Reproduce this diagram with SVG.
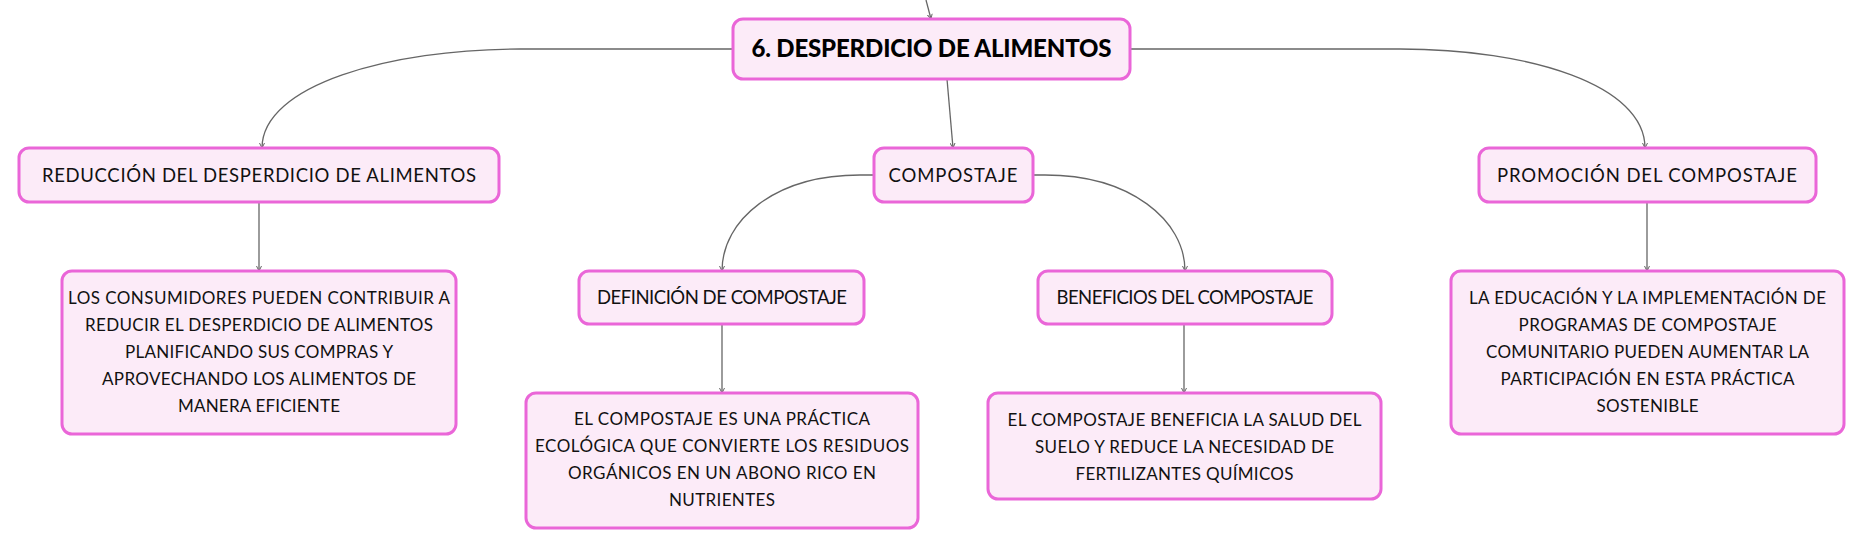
<svg xmlns="http://www.w3.org/2000/svg" width="1864" height="549" viewBox="0 0 1864 549">
<style>
.box{fill:#fcebf8;stroke:#ea66d8;stroke-width:3}
.t{font-family:Lato,"Noto Sans",sans-serif;font-size:18.5px;fill:#111;text-anchor:middle}
.b{font-family:Lato,"Noto Sans",sans-serif;font-size:17px;fill:#111;text-anchor:middle}
.m{font-family:Lato,"Noto Sans",sans-serif;font-size:24px;font-weight:900;fill:#000;text-anchor:middle}
.c{fill:none;stroke:#666;stroke-width:1.3;marker-end:url(#ar)}
</style>
<defs>
<marker id="ar" markerUnits="userSpaceOnUse" markerWidth="6" markerHeight="6" refX="5" refY="3" orient="auto">
<path d="M0,0.5 L5,3 L0,5.5" fill="none" stroke="#666" stroke-width="1"/>
</marker>
</defs>
<g id="connectors">
<path class="c" d="M926,0 L931,19"/>
<path class="c" d="M733,49 L520,49 C390,49 262,85 262,148"/>
<path class="c" d="M947,79 L953,148"/>
<path class="c" d="M1130,49 L1400,49 C1530,49 1645,85 1645,148"/>
<path class="c" d="M259,202 L259,271"/>
<path class="c" d="M874,175 L860,175 C775,175 722,220 722,271"/>
<path class="c" d="M1033,175 L1045,175 C1130,175 1185,220 1185,271"/>
<path class="c" d="M1647,202 L1647,271"/>
<path class="c" d="M722,324 L722,393"/>
<path class="c" d="M1184,324 L1184,393"/>
</g>
<g id="main">
<rect class="box" x="733" y="19" width="397" height="60" rx="10"/>
<text class="m" x="931.5" y="57" textLength="360">6. DESPERDICIO DE ALIMENTOS</text>
</g>
<g id="reduccion">
<rect class="box" x="19" y="148" width="480" height="54" rx="10"/>
<text class="t" x="259" y="182" textLength="434">REDUCCIÓN DEL DESPERDICIO DE ALIMENTOS</text>
</g>
<g id="compostaje">
<rect class="box" x="874" y="148" width="159" height="54" rx="10"/>
<text class="t" x="953" y="182" textLength="129">COMPOSTAJE</text>
</g>
<g id="promocion">
<rect class="box" x="1479" y="148" width="337" height="54" rx="10"/>
<text class="t" x="1647" y="182" textLength="300">PROMOCIÓN DEL COMPOSTAJE</text>
</g>
<g id="definicion">
<rect class="box" x="579" y="271" width="285" height="53" rx="10"/>
<text class="t" x="722" y="304" textLength="250">DEFINICIÓN DE COMPOSTAJE</text>
</g>
<g id="beneficios">
<rect class="box" x="1038" y="271" width="294" height="53" rx="10"/>
<text class="t" x="1185" y="304" textLength="257">BENEFICIOS DEL COMPOSTAJE</text>
</g>
<g id="consumidores">
<rect class="box" x="62" y="271" width="394" height="163" rx="10"/>
<text class="b" x="259" y="304" textLength="382">LOS CONSUMIDORES PUEDEN CONTRIBUIR A</text>
<text class="b" x="259" y="331" textLength="348">REDUCIR EL DESPERDICIO DE ALIMENTOS</text>
<text class="b" x="259" y="358" textLength="268">PLANIFICANDO SUS COMPRAS Y</text>
<text class="b" x="259" y="385" textLength="314">APROVECHANDO LOS ALIMENTOS DE</text>
<text class="b" x="259" y="412" textLength="162">MANERA EFICIENTE</text>
</g>
<g id="definicion-texto">
<rect class="box" x="526" y="393" width="392" height="135" rx="10"/>
<text class="b" x="722" y="425" textLength="296">EL COMPOSTAJE ES UNA PRÁCTICA</text>
<text class="b" x="722" y="452" textLength="374">ECOLÓGICA QUE CONVIERTE LOS RESIDUOS</text>
<text class="b" x="722" y="479" textLength="308">ORGÁNICOS EN UN ABONO RICO EN</text>
<text class="b" x="722" y="506" textLength="106">NUTRIENTES</text>
</g>
<g id="beneficios-texto">
<rect class="box" x="988" y="393" width="393" height="106" rx="10"/>
<text class="b" x="1184.5" y="426" textLength="354">EL COMPOSTAJE BENEFICIA LA SALUD DEL</text>
<text class="b" x="1184.5" y="453" textLength="299">SUELO Y REDUCE LA NECESIDAD DE</text>
<text class="b" x="1184.5" y="480" textLength="218">FERTILIZANTES QUÍMICOS</text>
</g>
<g id="promocion-texto">
<rect class="box" x="1451" y="271" width="393" height="163" rx="10"/>
<text class="b" x="1647.5" y="304" textLength="357">LA EDUCACIÓN Y LA IMPLEMENTACIÓN DE</text>
<text class="b" x="1647.5" y="331" textLength="258">PROGRAMAS DE COMPOSTAJE</text>
<text class="b" x="1647.5" y="358" textLength="323">COMUNITARIO PUEDEN AUMENTAR LA</text>
<text class="b" x="1647.5" y="385" textLength="294">PARTICIPACIÓN EN ESTA PRÁCTICA</text>
<text class="b" x="1647.5" y="412" textLength="102">SOSTENIBLE</text>
</g>
</svg>
